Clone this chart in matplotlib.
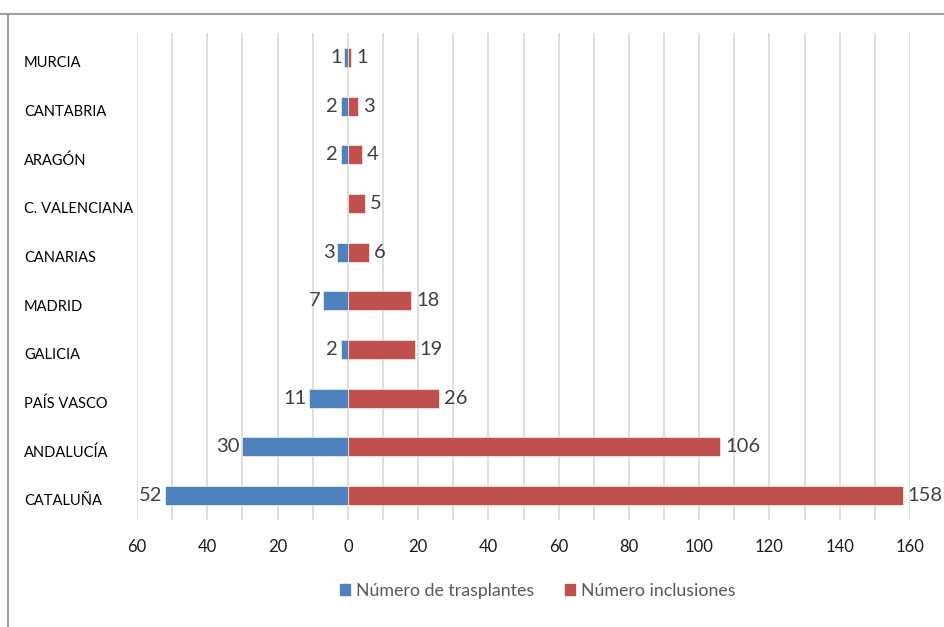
import matplotlib.pyplot as plt
from matplotlib.patches import Patch
from matplotlib.lines import Line2D
from matplotlib.transforms import blended_transform_factory

plt.rcParams['font.family'] = ['Lato', 'DejaVu Sans']

regiones = ['MURCIA', 'CANTABRIA', 'ARAGÓN', 'C. VALENCIANA', 'CANARIAS',
            'MADRID', 'GALICIA', 'PAÍS VASCO', 'ANDALUCÍA', 'CATALUÑA']
trasplantes = [1, 2, 2, 0, 3, 7, 2, 11, 30, 52]
inclusiones = [1, 3, 4, 5, 6, 18, 19, 26, 106, 158]
ticks = [-60, -40, -20, 0, 20, 40, 60, 80, 100, 120, 140, 160]

azul = '#4F81BD'
rojo = '#C0504D'

fig = plt.figure(figsize=(9.44, 6.27), dpi=100)
ax = fig.add_axes([137 / 944, 1 - 520 / 627, 773 / 944, 487 / 627])

y = list(range(len(regiones)))
ax.barh(y, [-t for t in trasplantes], height=0.39, color=azul,
        edgecolor='white', linewidth=0.4, zorder=3)
ax.barh(y, inclusiones, height=0.39, color=rojo,
        edgecolor='white', linewidth=0.4, zorder=3)

# etiquetas de valor a cada lado del cero
for i, (t, n) in enumerate(zip(trasplantes, inclusiones)):
    if t:
        ax.annotate(str(t), (-t, i), xytext=(-2, 0), textcoords='offset points',
                    ha='right', va='center', fontsize=14.5, color='#404040', zorder=4)
    if n:
        ax.annotate(str(n), (n, i), xytext=(3.5, 0), textcoords='offset points',
                    ha='left', va='center', fontsize=14.5, color='#404040', zorder=4)

ax.set_xlim(-60, 160)
ax.set_ylim(len(regiones) - 0.5, -0.5)
ax.set_xticks(range(-60, 161, 10), minor=False)
ax.set_xticklabels([str(abs(v)) if v in ticks else '' for v in range(-60, 161, 10)],
                   fontsize=12, color='#1a1a1a')
ax.tick_params(axis='x', length=0, pad=14)
ax.set_yticks([])
ax.grid(axis='x', color='#D9D9D9', linewidth=1.2, zorder=0)
for s in ax.spines.values():
    s.set_visible(False)

# nombres de las comunidades alineados a la izquierda
tr = blended_transform_factory(fig.transFigure, ax.transData)
for i, r in enumerate(regiones):
    ax.text(24 / 944, i + 0.12, r, transform=tr, ha='left', va='center',
            fontsize=10.5, color='#000000')

handles = [Patch(color=azul), Patch(color=rojo)]
fig.legend(handles, ['Número de trasplantes', 'Número inclusiones'],
           loc='center', bbox_to_anchor=(538 / 944, 1 - 591 / 627), ncol=2,
           frameon=False, fontsize=12.8, labelcolor='#595959',
           handlelength=0.56, handleheight=0.56, handletextpad=0.34, columnspacing=1.75)

# marco exterior del gráfico
fig.add_artist(Line2D([0, 1], [1 - 13.5 / 627] * 2, transform=fig.transFigure,
                      color='#A0A0A0', linewidth=1.5))
fig.add_artist(Line2D([7.5 / 944] * 2, [0, 1 - 13.5 / 627], transform=fig.transFigure,
                      color='#A0A0A0', linewidth=1.5))

fig.savefig('out.png', dpi=100, facecolor='white')
